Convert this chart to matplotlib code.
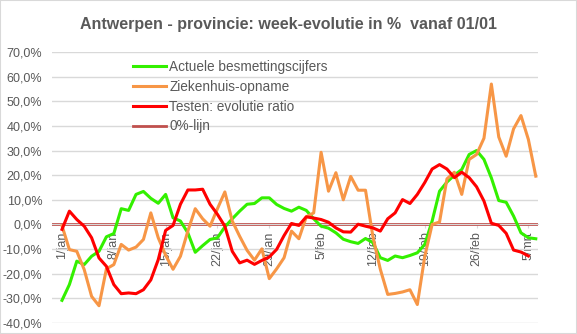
import numpy as np
import matplotlib
matplotlib.use("Agg")
import matplotlib.pyplot as plt
import matplotlib.patches as mpatches
from matplotlib.ticker import FuncFormatter, MultipleLocator

plt.rcParams["font.family"] = ["Liberation Sans", "DejaVu Sans"]

# ── data (week-evolutie in %, daily from 1/jan) ──────────────────────────────
besmettingen = [
    -30.8, -24.4, -14.9, -16.3, -12.9, -10.9, -5.0, -3.7, 6.4, 5.7,
    12.2, 13.4, 10.6, 8.6, 12.2, 2.7, 1.4, -3.4, -11.3, -8.6,
    -6.1, -5.4, -1.0, 2.3, 5.4, 8.2, 8.5, 10.8, 10.8, 8.1,
    6.5, 5.4, 7.0, 5.7, 2.3, -0.7, -1.5, -3.4, -6.0, -7.0,
    -7.7, -5.7, -7.4, -13.5, -14.6, -12.8, -13.5, -12.6, -11.5, -8.1,
    1.4, 13.5, 17.2, 20.0, 22.3, 28.4, 30.0, 26.4, 18.9, 9.7,
    9.0, 3.4, -3.4, -5.4, -5.8,
]
ziekenhuis = [
    -0.5, -10.2, -10.9, -18.3, -29.2, -33.0, -18.0, -16.3, -8.1, -10.4,
    -9.2, -6.1, 4.7, -5.4, -12.5, -18.2, -12.9, -2.7, 6.4, 2.3,
    -0.7, 6.4, 13.2, 1.4, -4.8, -10.5, -14.5, -9.9, -22.0, -18.0,
    -13.5, -2.7, -5.8, 3.1, 4.7, 29.3, 13.5, 21.0, 10.0, 19.5,
    13.9, 13.9, -5.0, -18.2, -28.4, -28.0, -27.4, -26.5, -32.5, -13.0,
    0.0, 1.0, 18.5, 21.2, 12.2, 26.4, 28.4, 35.0, 57.0, 35.5,
    27.7, 38.8, 44.2, 34.5, 19.6,
]
testen = [
    -2.0, 5.4, 2.0, -0.7, -5.4, -13.6, -17.0, -24.4, -28.1, -27.8,
    -28.1, -26.5, -22.5, -14.3, -2.4, -0.4, 8.2, 14.0, 14.0, 14.3,
    8.2, 4.1, -0.7, -10.9, -15.6, -14.5, -16.2, -14.6, -13.2, -10.1,
    -4.5, 0.4, -0.4, 3.1, 2.6, 2.0, 0.9, -1.4, -3.0, -3.1,
    0.1, -0.7, -1.4, -2.7, 2.3, 4.7, 10.1, 8.5, 12.2, 17.0,
    22.5, 24.3, 22.5, 19.0, 21.2, 19.0, 15.3, 9.5, 0.5, -0.4,
    -3.6, -10.4, -11.2, -12.8,
]
date_ticks  = [0, 7, 14, 21, 28, 35, 42, 49, 56, 63]
date_labels = ["1/jan", "8/jan", "15/jan", "22/jan", "29/jan",
               "5/feb", "12/feb", "19/feb", "26/feb", "5/mrt"]

TXT  = "#595959"
GRID = "#D9D9D9"

fig = plt.figure(figsize=(5.77, 3.34), dpi=100)
ax = fig.add_axes([52 / 577, 1 - 323 / 334, 486 / 577, 271 / 334])

days_g = np.arange(len(besmettingen))
days_z = np.arange(len(ziekenhuis))
days_t = np.arange(len(testen))

ax.plot(days_g, besmettingen, color="#33F000", lw=2.2, label="Actuele besmettingscijfers", zorder=3)
ax.plot(days_z, ziekenhuis, color="#F79646", lw=2.2, label="Ziekenhuis-opname", zorder=3)
ax.plot(days_t, testen, color="#FF0000", lw=2.2, label="Testen: evolutie ratio", zorder=4)
ax.axhline(0, color="#C0504D", lw=2.0, label="0%-lijn", zorder=2)

ax.set_xlim(-1.35, 64.3)
ax.set_ylim(-40, 70)
ax.yaxis.set_major_locator(MultipleLocator(10))
ax.yaxis.set_major_formatter(FuncFormatter(lambda v, p: f"{v:.1f}%".replace(".", ",")))
ax.grid(axis="y", color=GRID, lw=1)
ax.set_axisbelow(True)

# x axis crosses at 0, like Excel
ax.spines["bottom"].set_position(("data", 0))
ax.spines["bottom"].set_color(GRID)
for s in ["top", "right", "left"]:
    ax.spines[s].set_visible(False)
ax.set_xticks(date_ticks)
ax.set_xticklabels(date_labels)
ax.tick_params(axis="x", colors=GRID, labelcolor=TXT, labelsize=9,
               length=3, pad=2, labelrotation=90)
ax.tick_params(axis="y", length=0, labelcolor=TXT, labelsize=9, pad=7)

leg = ax.legend(loc="upper left", bbox_to_anchor=(0.167, 0.97), frameon=False,
                fontsize=9.8, handlelength=2.4, handletextpad=0.25,
                labelspacing=0.42, borderpad=0, borderaxespad=0)
for t in leg.get_texts():
    t.set_color(TXT)

fig.text(0.5, 1 - 24 / 334, "Antwerpen - provincie: week-evolutie in %  vanaf 01/01",
         ha="center", va="center", fontsize=11.5, fontweight="bold", color=TXT)

fig.patches.append(mpatches.Rectangle((0, 0), 1, 1, transform=fig.transFigure,
                                      fill=False, edgecolor=GRID, lw=1.5))

fig.savefig("out.png", dpi=100)
